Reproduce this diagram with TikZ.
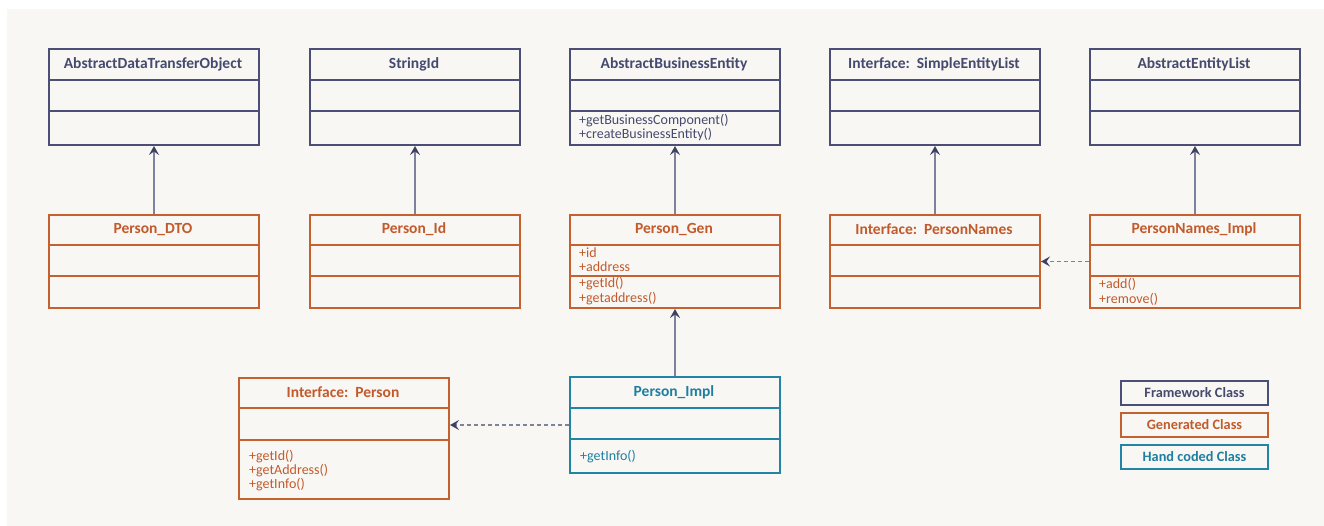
\documentclass[tikz,border=0pt]{standalone}
\usepackage{fontspec}
\setmainfont{Carlito}
\usetikzlibrary{arrows.meta}

\definecolor{panel}{HTML}{F8F7F3}
\definecolor{fwline}{HTML}{4B4F76}
\definecolor{fwtext}{HTML}{454A6E}
\definecolor{genline}{HTML}{C5612F}
\definecolor{gentext}{HTML}{C25A2C}
\definecolor{handline}{HTML}{2384A6}
\definecolor{handtext}{HTML}{1F7FA2}
\definecolor{linkline}{HTML}{7D829E}
\definecolor{linkhead}{HTML}{3D4263}

\tikzset{
  classbox/.style={draw=#1, line width=2pt, inner sep=0pt, anchor=north west},
  divider/.style={draw=#1, line width=2pt},
  title/.style={font=\bfseries\fontsize{15.5}{17}\selectfont, text=#1, inner sep=0pt},
  member/.style={font=\fontsize{14}{15}\selectfont, text=#1, inner sep=0pt,
                 anchor=west, text height=10pt, text depth=3pt},
  inherit/.style={draw=linkline, line width=1.5pt,
                  -{Stealth[length=9pt, width=10pt, inset=3.5pt, color=linkhead]}},
  realize/.style={draw=linkline, line width=1.6pt, dash pattern=on 4pt off 3pt,
                  -{Stealth[length=9pt, width=10pt, inset=3.5pt, color=linkhead]}},
  legendbox/.style={draw=#1, line width=2pt, minimum width=147pt, minimum height=24pt,
                    inner sep=0pt, font=\bfseries\fontsize{14.3}{16}\selectfont}
}

% #1 name, #2 left, #3 top, #4 height, #5 header line y, #6 middle line y,
% #7 line colour, #8 text colour, #9 title
\newcommand\umlclass[9]{%
  \node[classbox=#7, minimum width=210pt, minimum height=#4pt] (#1) at (#2,#3) {};
  \draw[divider=#7] (#2,#5) -- (#2+210,#5);
  \draw[divider=#7] (#2,#6) -- (#2+210,#6);
  \node[title=#8] at (#2+105,{(#3+#5)/2}) {#9};
}

\begin{document}
\begin{tikzpicture}[x=1pt, y=-1pt]
  \useasboundingbox (0,0) rectangle (1324,526);
  \fill[white] (0,0) rectangle (1324,526);
  \fill[panel] (7,9) rectangle (1324,526);

  % framework classes
  \umlclass{adto}{48}{48}{96}{80}{111}{fwline}{fwtext}{AbstractDataTransferObject}
  \umlclass{sid}{309}{48}{96}{80}{111}{fwline}{fwtext}{StringId}
  \umlclass{abe}{569}{48}{96}{80}{111}{fwline}{fwtext}{AbstractBusinessEntity}
  \umlclass{sel}{829}{48}{96}{80}{111}{fwline}{fwtext}{Interface:\ \ SimpleEntityList}
  \umlclass{ael}{1089}{48}{96}{80}{111}{fwline}{fwtext}{AbstractEntityList}
  \node[member=fwtext] at (579,121) {+getBusinessComponent()};
  \node[member=fwtext] at (579,135) {+createBusinessEntity()};

  % generated classes
  \umlclass{pdto}{48}{214}{93}{245}{276}{genline}{gentext}{Person\_DTO}
  \umlclass{pid}{309}{214}{93}{245}{276}{genline}{gentext}{Person\_Id}
  \umlclass{pgen}{569}{214}{93}{245}{276}{genline}{gentext}{Person\_Gen}
  \umlclass{pnames}{829}{214}{93}{245}{276}{genline}{gentext}{Interface:\ \ PersonNames}
  \umlclass{pnimpl}{1089}{214}{93}{245}{276}{genline}{gentext}{PersonNames\_Impl}
  \node[member=gentext] at (579,254) {+id};
  \node[member=gentext] at (579,268) {+address};
  \node[member=gentext] at (579,284) {+getId()};
  \node[member=gentext] at (579,299) {+getaddress()};
  \node[member=gentext] at (1099,285) {+add()};
  \node[member=gentext] at (1099,300) {+remove()};

  \umlclass{iperson}{238}{377}{121}{408}{440}{genline}{gentext}{Interface:\ \ Person}
  \node[member=gentext] at (249,457) {+getId()};
  \node[member=gentext] at (249,471) {+getAddress()};
  \node[member=gentext] at (249,485) {+getInfo()};

  % hand coded class
  \umlclass{pimpl}{569}{376}{96}{408}{439}{handline}{handtext}{Person\_Impl}
  \node[member=handtext] at (580,457) {+getInfo()};

  % generalisation
  \draw[inherit] (pdto.north) -- (adto.south);
  \draw[inherit] (pid.north) -- (sid.south);
  \draw[inherit] (pgen.north) -- (abe.south);
  \draw[inherit] (pnames.north) -- (sel.south);
  \draw[inherit] (pnimpl.north) -- (ael.south);
  \draw[inherit] (pimpl.north) -- (pgen.south);

  % realisation
  \draw[realize] (pnimpl.west) -- (pnames.east);
  \draw[realize] (pimpl.west) -- (pimpl.west -| iperson.east);

  % legend
  \node[legendbox=fwline, text=fwtext] (lfw) at (1194.5,393) {Framework Class};
  \node[legendbox=genline, text=gentext] (lgen) at (1194.5,425) {Generated Class};
  \node[legendbox=handline, text=handtext] (lhand) at (1194.5,456.5) {Hand coded Class};
\end{tikzpicture}
\end{document}
